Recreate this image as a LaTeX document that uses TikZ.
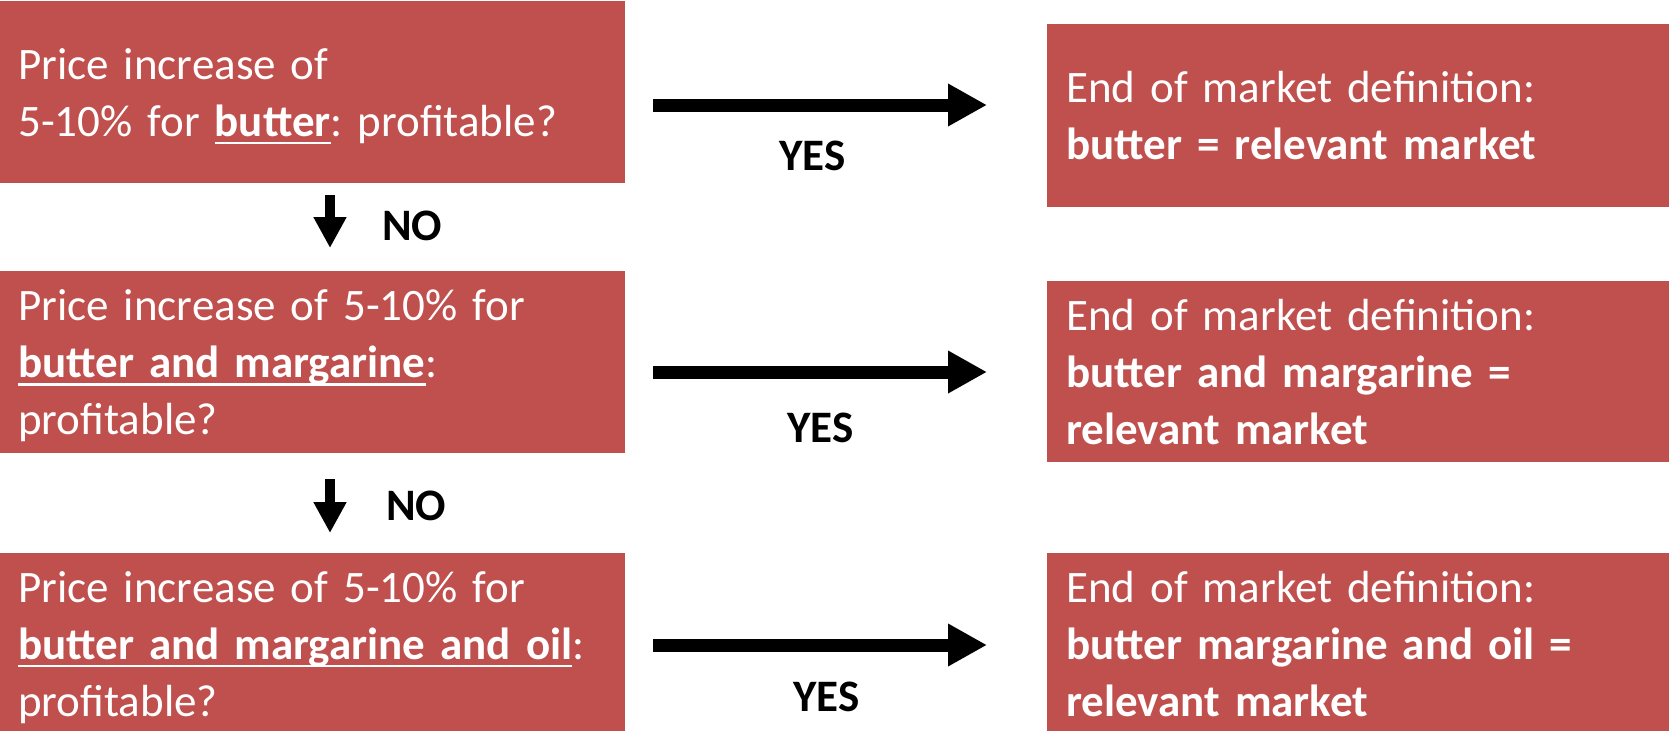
\documentclass[tikz,border=0pt]{standalone}
\usepackage{fontspec}
\setmainfont{Carlito}
\usetikzlibrary{arrows.meta}
\definecolor{boxred}{HTML}{C0504D}
\frenchspacing
\newsavebox\myulbox
\newcommand\ulw[1]{\leavevmode\sbox\myulbox{#1}\rlap{\rule[-8pt]{\wd\myulbox}{2.5pt}}\usebox\myulbox}
\begin{document}
\begin{tikzpicture}[x=1pt,y=-1pt,
  box/.style={fill=boxred, draw=none, inner sep=0pt, outer sep=0pt, anchor=north west},
  txt/.style={text=white, anchor=base west, inner sep=0pt, text width=640pt, align=left, font=\fontsize{45}{57}\selectfont},
  lbl/.style={anchor=base west, inner sep=0pt, font=\fontsize{45}{54}\selectfont\bfseries},
  harrow/.style={line width=13pt, -{Triangle[length=39pt,width=40pt]}},
  varrow/.style={line width=10pt, -{Triangle[length=31pt,width=31pt]}}]
\useasboundingbox[fill=white] (0,0) rectangle (1669,731);
% boxes
\node[box, minimum width=625pt, minimum height=182pt] (L1) at (0,1) {};
\node[box, minimum width=625pt, minimum height=182pt] (L2) at (0,271) {};
\node[box, minimum width=625pt, minimum height=178pt] (L3) at (0,553) {};
\node[box, minimum width=622pt, minimum height=183pt] (R1) at (1047,24) {};
\node[box, minimum width=622pt, minimum height=181pt] (R2) at (1047,281) {};
\node[box, minimum width=622pt, minimum height=178pt] (R3) at (1047,553) {};
% texts
\node[txt] (tL1) at (18,79) {Price increase of\\5-10\% for \ulw{\textbf{butter}}: profitable?};
\node[txt] (tL2) at (18,320.7) {Price increase of 5-10\% for\\\ulw{\textbf{butter and margarine}}:\\profitable?};
\node[txt] (tL3) at (18,602) {Price increase of 5-10\% for\\\ulw{\textbf{butter and margarine and oil}}:\\profitable?};
\node[txt] (tR1) at (1066,102) {End of market definition:\\\textbf{butter = relevant market}};
\node[txt] (tR2) at (1066,330) {End of market definition:\\\textbf{butter and margarine =}\\\textbf{relevant market}};
\node[txt] (tR3) at (1066,602) {End of market definition:\\\textbf{butter margarine and oil =}\\\textbf{relevant market}};
% labels
\node[lbl] (y1) at (779,170) {YES};
\node[lbl] (y2) at (787,442.7) {YES};
\node[lbl] (y3) at (793,711.7) {YES};
\node[lbl] (n1) at (382,240) {NO};
\node[lbl] (n2) at (386,520) {NO};
% arrow ends
\coordinate (a1s) at (653,105); \coordinate (a1e) at (987,105);
\coordinate (a2s) at (653,372); \coordinate (a2e) at (987,372);
\coordinate (a3s) at (653,645); \coordinate (a3e) at (987,645);
\coordinate (d1s) at (330,195); \coordinate (d1e) at (330,248);
\coordinate (d2s) at (330,479); \coordinate (d2e) at (330,533);
\draw[harrow] (a1s) -- (a1e);
\draw[harrow] (a2s) -- (a2e);
\draw[harrow] (a3s) -- (a3e);
\draw[varrow] (d1s) -- (d1e);
\draw[varrow] (d2s) -- (d2e);
\end{tikzpicture}
\end{document}
